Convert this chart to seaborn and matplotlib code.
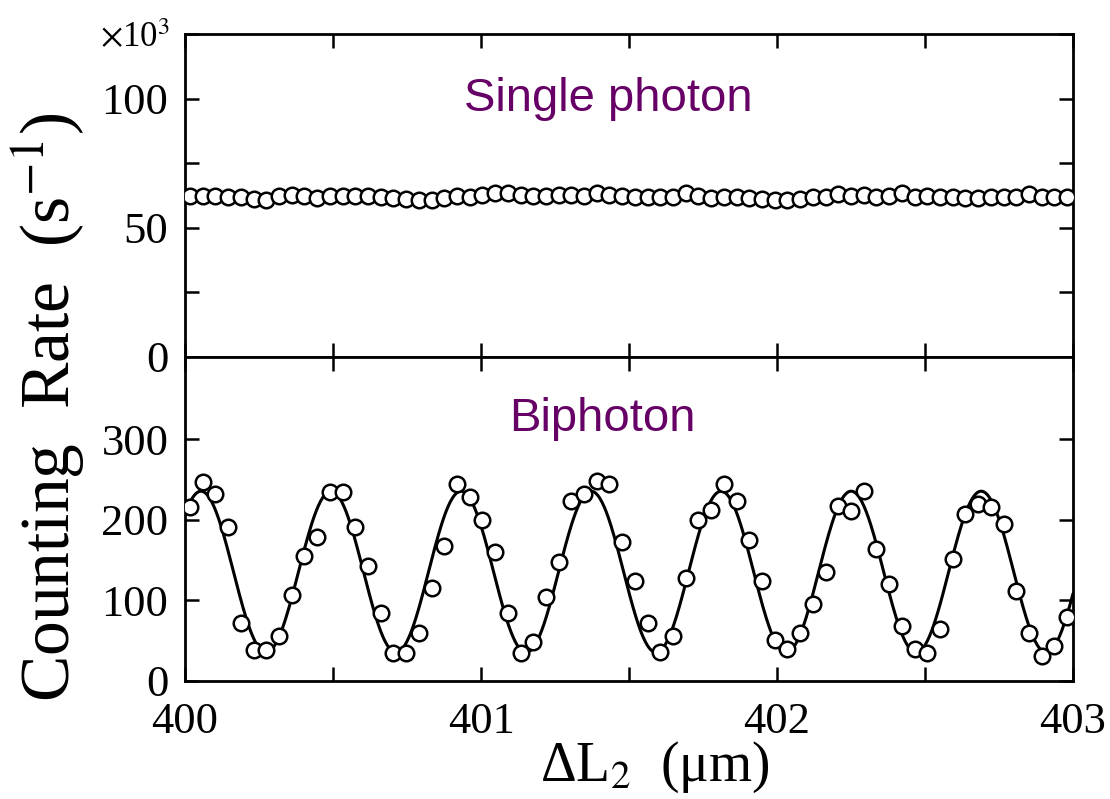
import numpy as np
import pandas as pd
import matplotlib
matplotlib.use("Agg")
import matplotlib.pyplot as plt
import seaborn as sns
from matplotlib.ticker import MultipleLocator, FixedLocator

# ---------------- data ----------------
x_start, x_end = 400.017, 402.98          # first / last sample position (um)
n_points = 70

single_photon = [62.4, 62.4, 62.4, 62.1, 62.1, 61.1, 60.9, 62.4, 62.6, 62.4,
                 61.5, 62.4, 62.4, 62.4, 62.4, 62.1, 61.5, 61.1, 60.6, 60.6,
                 61.7, 62.4, 61.9, 62.7, 63.4, 63.4, 62.7, 62.4, 62.4, 62.7,
                 62.7, 62.4, 63.4, 62.7, 62.4, 62.1, 61.9, 61.9, 61.9, 63.4,
                 62.4, 61.5, 61.9, 62.1, 61.5, 61.1, 60.6, 60.6, 61.1, 62.1,
                 61.9, 63.2, 62.4, 62.7, 62.1, 62.4, 63.4, 62.1, 62.4, 62.1,
                 61.9, 61.5, 61.5, 61.9, 61.9, 61.9, 63.2, 61.9, 61.9, 61.9]

biphoton = [216, 247, 232, 191, 72, 39, 39, 56, 107, 155,
            179, 235, 235, 191, 143, 84, 35, 35, 60, 116,
            167, 244, 228, 200, 160, 84, 35, 49, 104, 148,
            223, 232, 248, 244, 172, 124, 72, 36, 56, 128,
            200, 212, 244, 223, 175, 124, 51, 40, 60, 95,
            135, 217, 211, 236, 164, 120, 68, 40, 35, 64,
            151, 207, 220, 216, 195, 112, 60, 31, 44, 79]

# cosine fit parameters of the biphoton interference
fit_mean, fit_amp, fit_period, fit_peak = 135.5, 100.0, 0.4393, 400.054

x_ticks = [400, 401, 402, 403]
top_yticks = [0, 50, 100]
bot_yticks = [0, 100, 200, 300]

x = np.linspace(x_start, x_end, n_points)
df = pd.DataFrame({"x": x, "single": single_photon, "bi": biphoton})
xf = np.linspace(400, 403, 800)
fit = pd.DataFrame({"x": xf,
                    "y": fit_mean + fit_amp * np.cos(2 * np.pi * (xf - fit_peak) / fit_period)})

# ---------------- style ----------------
sns.set_style("ticks")
plt.rcParams["font.family"] = ["Liberation Serif", "DejaVu Serif"]
plt.rcParams["mathtext.fontset"] = "stix"

W, H = 1110, 799
fig = plt.figure(figsize=(W / 100, H / 100), dpi=100)
left, right = 185 / W, 1073 / W
y_top, y_mid, y_bot = 1 - 34 / H, 1 - 357 / H, 1 - 681 / H
ax1 = fig.add_axes([left, y_mid, right - left, y_top - y_mid])
ax2 = fig.add_axes([left, y_bot, right - left, y_mid - y_bot], sharex=ax1)

purple = "#660066"
mk = dict(marker="o", s=125, facecolor="white", edgecolor="black", linewidth=1.8, zorder=3)

sns.scatterplot(data=df, x="x", y="single", ax=ax1, legend=False, **mk)
sns.lineplot(data=fit, x="x", y="y", ax=ax2, color="black", linewidth=2.2, zorder=2)
sns.scatterplot(data=df, x="x", y="bi", ax=ax2, legend=False, **mk)

ax1.set_xlim(400, 403)
ax1.set_ylim(0, 125)
ax2.set_ylim(0, 402)

for ax in (ax1, ax2):
    for sp in ax.spines.values():
        sp.set_visible(True)
        sp.set_linewidth(2.0)
        sp.set_color("black")
    ax.set_xlabel("")
    ax.set_ylabel("")
    ax.xaxis.set_major_locator(FixedLocator(x_ticks))
    ax.xaxis.set_minor_locator(MultipleLocator(0.5))
    ax.tick_params(which="both", direction="in", length=10, width=1.8,
                   top=True, right=True, bottom=True, left=True,
                   labelsize=32, pad=12, colors="black")

ax1.yaxis.set_major_locator(FixedLocator(top_yticks))
ax1.yaxis.set_minor_locator(MultipleLocator(25))
ax1.tick_params(labelbottom=False)
ax2.yaxis.set_major_locator(FixedLocator(bot_yticks))
ax2.yaxis.set_minor_locator(FixedLocator([]))
ax2.set_xticklabels([str(t) for t in x_ticks])
ax2.tick_params(axis="x", pad=15)

ax1.text(0.477, 0.80, "Single photon", transform=ax1.transAxes, ha="center", va="center",
         color=purple, fontsize=34, family=["Liberation Sans", "DejaVu Sans"])
ax2.text(0.470, 0.81, "Biphoton", transform=ax2.transAxes, ha="center", va="center",
         color=purple, fontsize=34, family=["Liberation Sans", "DejaVu Sans"])

fig.text(0.090, 0.952, r"$\times$10$^3$", fontsize=25, ha="left", va="center", color="black")
fig.text(48 / W, 1 - 407 / H, "Counting  Rate  (s$^{-1}$)", rotation=90,
         ha="center", va="center", fontsize=50, color="black")
fig.text(655 / W, 1 - 767 / H, "ΔL$_2$  (μm)", ha="center", va="center", fontsize=40,
         color="black")

fig.savefig("out.png", dpi=100)
